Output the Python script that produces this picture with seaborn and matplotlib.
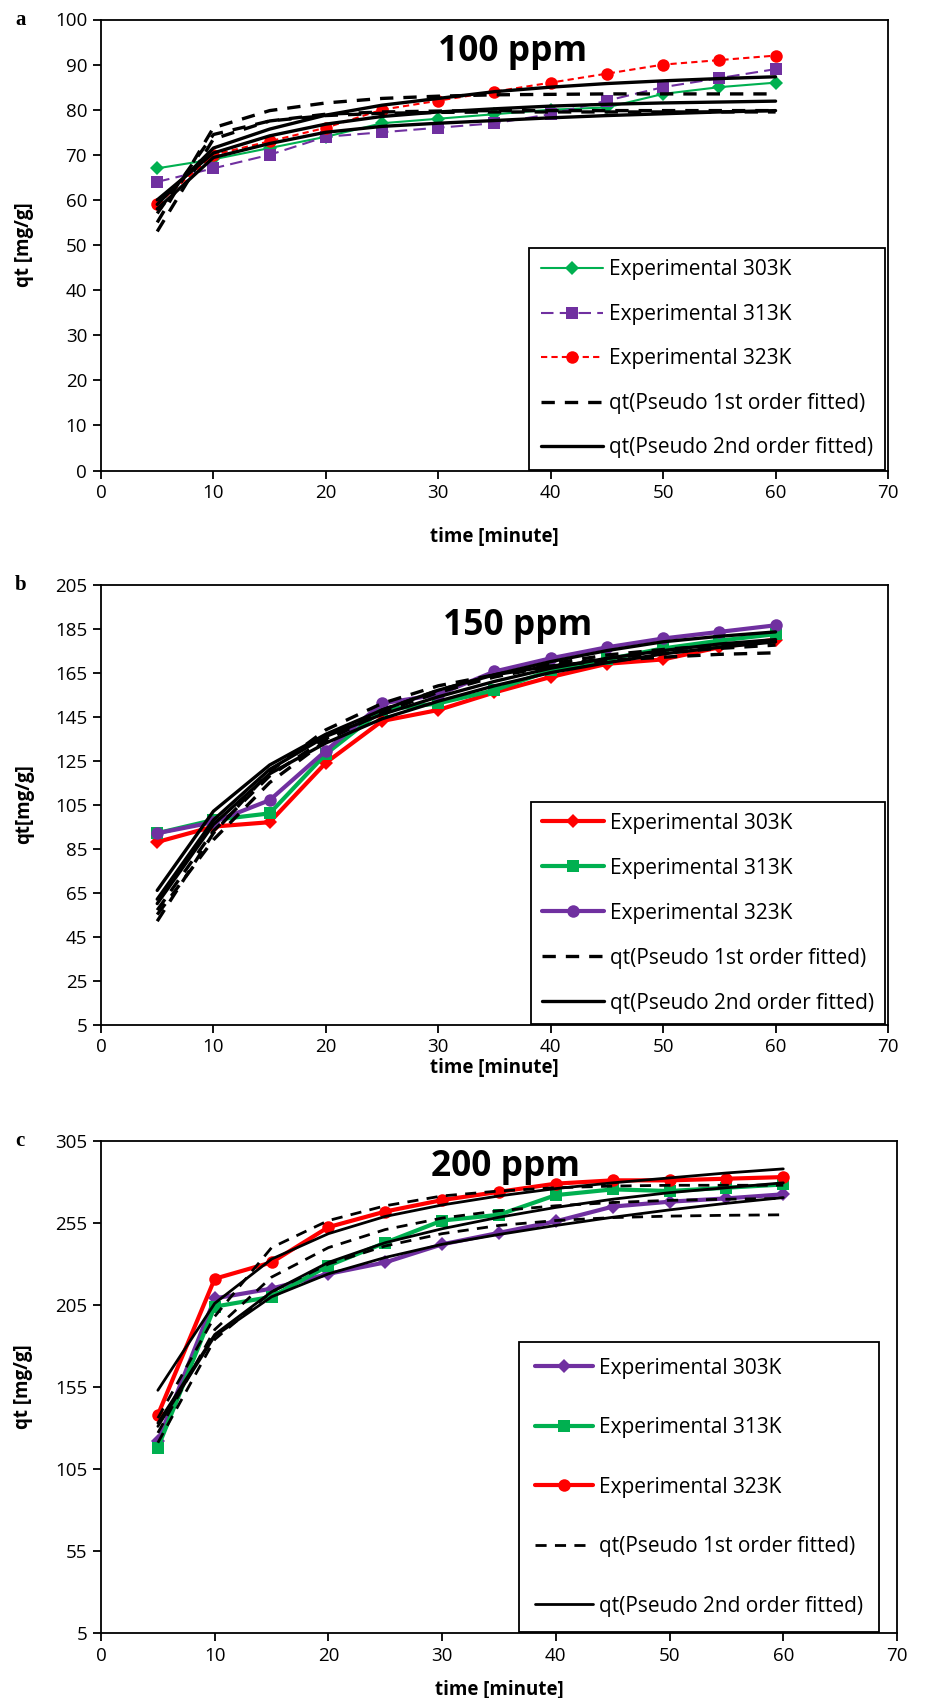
import matplotlib
matplotlib.use("Agg")
import matplotlib.pyplot as plt
import seaborn as sns

# ---------------- data ----------------
time_min = [5, 10, 15, 20, 25, 30, 35, 40, 45, 50, 55, 60]
x_ticks = [0, 10, 20, 30, 40, 50, 60, 70]

# panel a : 100 ppm
a_exp_303 = [67, 69, 71.5, 74, 77, 78, 79, 80, 80.5, 83.5, 85, 86]
a_exp_313 = [64, 67, 70, 74, 75, 76, 77, 79, 82, 85, 87, 89]
a_exp_323 = [59, 70, 73, 76, 80, 82, 84, 86, 88, 90, 91, 92]
a_pfo_1 = [55, 76, 79.8, 81.5, 82.5, 83, 83.3, 83.4, 83.5, 83.5, 83.5, 83.5]
a_pfo_2 = [53, 73.5, 77.5, 79, 79.5, 79.7, 79.8, 79.8, 79.8, 79.8, 79.8, 79.8]
a_pfo_3 = [57, 74.5, 77.5, 78.7, 79.2, 79.4, 79.5, 79.5, 79.5, 79.5, 79.5, 79.5]
a_pso_1 = [59, 71.5, 75.7, 78.8, 81, 82.5, 84, 85, 85.8, 86.4, 86.9, 87.3]
a_pso_2 = [60, 70.4, 74.2, 76.8, 78.5, 79.5, 80.2, 80.8, 81.2, 81.5, 81.7, 81.9]
a_pso_3 = [58, 69.4, 72.5, 75, 76.3, 77, 77.6, 78.2, 78.7, 79.1, 79.5, 79.8]
a_yticks = [0, 10, 20, 30, 40, 50, 60, 70, 80, 90, 100]

# panel b : 150 ppm
b_exp_303 = [88, 95, 97, 124, 143, 148, 156, 163, 169, 171, 176.5, 180]
b_exp_313 = [92, 98, 101, 128, 148, 151, 157, 166, 171, 176, 179.5, 182.5]
b_exp_323 = [92, 97, 107, 129.5, 151, 155, 165.5, 171.5, 176.5, 180.5, 183.5, 186.5]
b_pfo_1 = [52, 92, 120, 139, 151, 159, 164, 168, 170.5, 172, 173.3, 174]
b_pfo_2 = [55, 89, 115, 134, 147, 156, 163, 168, 171.5, 174, 176, 177.5]
b_pfo_3 = [57, 93, 118, 135, 148, 157, 164, 169, 173, 175.5, 177.5, 179]
b_pso_1 = [66, 102, 123, 137, 148, 157, 164, 170, 175, 179, 181.5, 183.5]
b_pso_2 = [62, 98, 121, 136, 146, 154, 161, 167, 171.5, 175, 178, 180]
b_pso_3 = [60, 96, 119, 133, 144, 152, 159, 165, 169.5, 173.5, 176.5, 179]
b_yticks = [5, 25, 45, 65, 85, 105, 125, 145, 165, 185, 205]

# panel c : 200 ppm
c_exp_303 = [122, 209, 215, 224, 231, 242, 249, 256, 265, 268, 270, 272.5]
c_exp_313 = [118, 204, 210, 229, 243, 256.5, 260, 272, 275.5, 274.5, 276.5, 278.5]
c_exp_323 = [138, 221, 231, 252.5, 262, 269, 274, 279, 281, 281, 282, 283]
c_pfo_1 = [136, 198, 240, 256.5, 265.5, 271.5, 274.5, 276.5, 277.5, 278, 278, 278]
c_pfo_2 = [127, 190, 222, 240, 251, 258, 262.5, 265.5, 267.5, 268.8, 269.5, 270]
c_pfo_3 = [121, 184, 213, 230, 241, 248.5, 253.5, 256.5, 258.3, 259.2, 259.7, 260]
c_pso_1 = [153, 206, 233, 248.5, 259, 266, 271.5, 276, 279.5, 282.5, 285.5, 288]
c_pso_2 = [133, 187, 213, 231, 243, 251.5, 258.5, 264.5, 269.5, 273.5, 276.5, 279.5]
c_pso_3 = [131, 186, 210, 224, 234, 242, 248, 253.5, 258.5, 263, 267, 270.5]
c_yticks = [5, 55, 105, 155, 205, 255, 305]

labels_exp = ["Experimental 303K", "Experimental 313K", "Experimental 323K"]
label_pfo = "qt(Pseudo 1st order fitted)"
label_pso = "qt(Pseudo 2nd order fitted)"

GREEN, PURPLE, RED = "#00B050", "#7030A0", "#FF0000"

# ---------------- style ----------------
sns.set_style("ticks")
plt.rcParams["font.family"] = ["Open Sans", "DejaVu Sans"]
plt.rcParams["axes.linewidth"] = 1.3
for k in ("text.color", "axes.labelcolor", "xtick.color", "ytick.color",
          "axes.edgecolor"):
    plt.rcParams[k] = "black"

W, H = 931, 1698
fig = plt.figure(figsize=(W / 100, H / 100), dpi=100)


def ax_rect(left, right, top, bottom):
    return [left / W, 1 - bottom / H, (right - left) / W, (bottom - top) / H]


def draw_panel(ax, exps, exp_styles, pfo, pso, fit_lw, dash, yticks,
               title, title_xy, ylabel, xlabel_y, leg):
    for vals, lab, st in zip(exps, labels_exp, exp_styles):
        sns.lineplot(x=time_min, y=vals, ax=ax, color=st["c"], marker=st["m"],
                     markersize=st["ms"], mec=st["c"], mfc=st["c"], mew=0,
                     lw=st["lw"], linestyle=st["ls"], label=lab,
                     errorbar=None, sort=False, zorder=3)
    for i, vals in enumerate(pfo):
        sns.lineplot(x=time_min, y=vals, ax=ax, color="black", lw=fit_lw,
                     linestyle=(0, dash), label=label_pfo if i == 0 else "_nolegend_",
                     errorbar=None, sort=False, zorder=4)
    for i, vals in enumerate(pso):
        sns.lineplot(x=time_min, y=vals, ax=ax, color="black", lw=fit_lw,
                     linestyle="-", label=label_pso if i == 0 else "_nolegend_",
                     errorbar=None, sort=False, zorder=4)
    ax.set_xlim(0, 70)
    ax.set_xticks(x_ticks)
    ax.set_ylim(yticks[0], yticks[-1])
    ax.set_yticks(yticks)
    for s in ax.spines.values():
        s.set_visible(True)
        s.set_color("black")
        s.set_linewidth(1.3)
    ax.tick_params(direction="out", length=6, width=1.3, labelsize=13.5,
                   colors="black", pad=4)
    ax.set_xlabel("time [minute]", fontsize=13.5, fontweight="bold")
    ax.set_ylabel(ylabel, fontsize=13.5, fontweight="bold")
    ax.xaxis.set_label_coords(0.5, xlabel_y)
    ax.yaxis.set_label_coords(-0.085, 0.5)
    ax.text(title_xy[0], title_xy[1], title, transform=ax.transAxes,
            ha="center", va="center", fontsize=25.5, fontweight="bold",
            color="black")
    h, l = ax.get_legend_handles_labels()
    lg = ax.legend(h, l, loc="lower right", bbox_to_anchor=(leg["x"], 0.0),
                   frameon=True, fancybox=False, framealpha=1, edgecolor="black",
                   fontsize=15, borderpad=leg["bp"], labelspacing=leg["ls"],
                   handlelength=leg["hl"], handletextpad=0.3,
                   borderaxespad=0.03)
    lg.get_frame().set_linewidth(1.3)


# panel a
axA = fig.add_axes(ax_rect(101, 888, 19.5, 470.5))
draw_panel(axA, [a_exp_303, a_exp_313, a_exp_323],
           [dict(c=GREEN, m="D", ms=7, lw=1.5, ls="-"),
            dict(c=PURPLE, m="s", ms=8, lw=1.5, ls=(0, (6, 3))),
            dict(c=RED, m="o", ms=9, lw=1.5, ls=(0, (3, 2)))],
           [a_pfo_1, a_pfo_2, a_pfo_3], [a_pso_1, a_pso_2, a_pso_3], 2.4, (4, 3),
           a_yticks, "100 ppm", (0.523, 0.928), "qt [mg/g]", -0.125,
           dict(x=0.997, bp=0.55, ls=1.13, hl=3.0))

# panel b
axB = fig.add_axes(ax_rect(101, 888, 584.6, 1024.6))
draw_panel(axB, [b_exp_303, b_exp_313, b_exp_323],
           [dict(c=RED, m="D", ms=7, lw=3, ls="-"),
            dict(c=GREEN, m="s", ms=8, lw=3, ls="-"),
            dict(c=PURPLE, m="o", ms=9, lw=3, ls="-")],
           [b_pfo_1, b_pfo_2, b_pfo_3], [b_pso_1, b_pso_2, b_pso_3], 2.4, (4, 3),
           b_yticks, "150 ppm", (0.529, 0.906), "qt[mg/g]", -0.076,
           dict(x=0.997, bp=0.5, ls=1.15, hl=3.0))

# panel c
axC = fig.add_axes(ax_rect(101, 897, 1141, 1633))
draw_panel(axC, [c_exp_303, c_exp_313, c_exp_323],
           [dict(c=PURPLE, m="D", ms=7, lw=3, ls="-"),
            dict(c=GREEN, m="s", ms=8, lw=3, ls="-"),
            dict(c=RED, m="o", ms=9, lw=3, ls="-")],
           [c_pfo_1, c_pfo_2, c_pfo_3], [c_pso_1, c_pso_2, c_pso_3], 2.0, (4, 3),
           c_yticks, "200 ppm", (0.508, 0.947), "qt [mg/g]", -0.095,
           dict(x=0.978, bp=0.75, ls=1.85, hl=2.8))

for letter, yy in (("a", 20), ("b", 585), ("c", 1141)):
    fig.text(15 / W, 1 - yy / H, letter, fontsize=15, fontweight="bold",
             family=["Liberation Serif", "DejaVu Serif"], ha="left", va="center")

fig.savefig("out.png", dpi=100)
